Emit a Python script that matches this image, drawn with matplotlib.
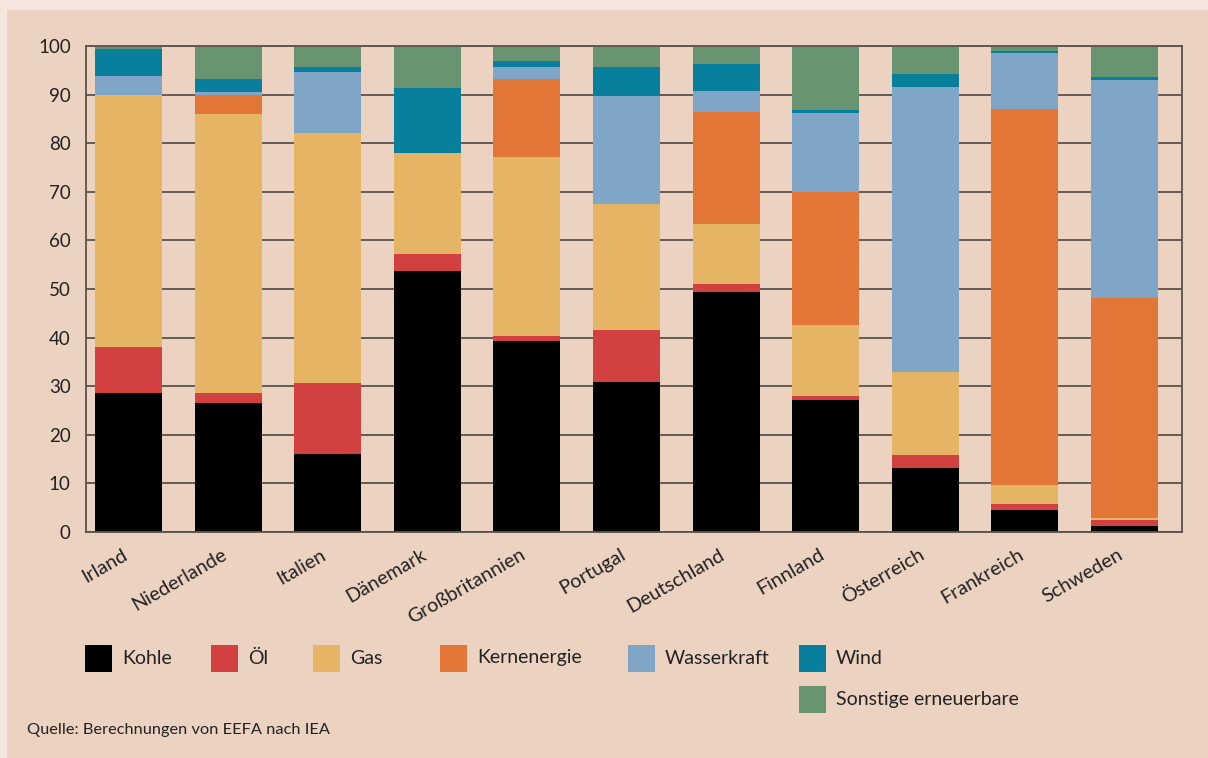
import matplotlib
matplotlib.use("Agg")
import matplotlib.pyplot as plt
import matplotlib.transforms as mtransforms
import numpy as np
from matplotlib.patches import Rectangle

plt.rcParams['font.family'] = ['Lato', 'DejaVu Sans']

# Data: share of electricity generation (percent), stacked bottom to top
countries = ['Irland', 'Niederlande', 'Italien', 'Dänemark', 'Großbritannien',
             'Portugal', 'Deutschland', 'Finnland', 'Österreich', 'Frankreich',
             'Schweden']
kohle    = [28.5, 26.6, 16.1, 53.8, 39.2, 30.9, 49.3, 27.2, 13.2, 4.5, 1.2]
oel      = [9.6, 2.1, 14.6, 3.5, 1.2, 10.7, 1.8, 0.8, 2.7, 1.3, 1.3]
gas      = [51.8, 57.3, 51.4, 20.6, 36.7, 25.8, 12.2, 14.5, 17.1, 3.9, 0.4]
kern     = [0.0, 4.0, 0.0, 0.0, 16.1, 0.0, 23.1, 27.4, 0.0, 77.3, 45.3]
wasser   = [3.9, 0.5, 12.5, 0.0, 2.5, 22.3, 4.3, 16.3, 58.5, 11.6, 44.8]
wind     = [5.6, 2.7, 1.1, 13.4, 1.2, 6.0, 5.6, 0.6, 2.7, 0.4, 0.6]
sonstige = [0.6, 6.8, 4.3, 8.7, 3.1, 4.3, 3.7, 13.2, 5.8, 1.0, 6.4]

series_names = ['Kohle', 'Öl', 'Gas', 'Kernenergie', 'Wasserkraft', 'Wind',
                'Sonstige erneuerbare']
series_values = [kohle, oel, gas, kern, wasser, wind, sonstige]
series_colors = ['#000000', '#D34040', '#E6B465', '#E17636', '#80A6C7',
                 '#087F9C', '#689472']

source_text = 'Quelle: Berechnungen von EEFA nach IEA'

BG = '#ECD2C1'
GRID = '#5B514D'
TEXT = '#222222'

W, H = 1208, 758
fig = plt.figure(figsize=(W / 100, H / 100), dpi=100)
fig.patch.set_facecolor('#F4E6DC')
# main panel (light strip left and top)
fig.patches.append(Rectangle((7 / W, 0), 1, 1 - 10 / H, transform=fig.transFigure,
                             facecolor=BG, edgecolor='none', zorder=-5))

ax = fig.add_axes([86 / W, (H - 532) / H, (1182 - 86) / W, (532 - 46) / H])
ax.set_facecolor(BG)

x = np.arange(len(countries))
bottom = np.zeros(len(countries))
for name, vals, col in zip(series_names, series_values, series_colors):
    vals = np.array(vals)
    ax.bar(x, vals, width=0.673, bottom=bottom, color=col, linewidth=0,
           label=name, zorder=2)
    bottom += vals

ax.set_xlim(-0.427, 10.577)
ax.set_ylim(0, 100)
ax.set_yticks(np.arange(0, 101, 10))
ax.yaxis.grid(True, color=GRID, linewidth=1.3, zorder=1)
ax.set_axisbelow(True)
for sp in ax.spines.values():
    sp.set_color(GRID)
    sp.set_linewidth(1.3)

ax.tick_params(axis='y', length=0, pad=11, labelsize=13.5, labelcolor=TEXT)
ax.set_xticks(x)
ax.set_xticklabels(countries, rotation=30, ha='right', rotation_mode='anchor')
ax.tick_params(axis='x', length=0, pad=10, labelsize=14.2, labelcolor=TEXT)
shift = mtransforms.ScaledTranslation(-7 / 100, 0, fig.dpi_scale_trans)
for lbl in ax.get_xticklabels():
    lbl.set_transform(lbl.get_transform() + shift)

# legend drawn by hand to match the original layout
legend_pos = [(85, 658), (211, 658), (313, 658), (440, 658), (628, 658),
              (799, 658), (799, 699)]
for (px, py), name, col in zip(legend_pos, series_names, series_colors):
    fig.patches.append(Rectangle((px / W, (H - py - 13.5) / H), 27 / W, 27 / H,
                                 transform=fig.transFigure, facecolor=col,
                                 edgecolor='none', zorder=3))
    fig.text((px + 37) / W, (H - py) / H, name, fontsize=14, color=TEXT,
             va='center', ha='left')

fig.text(27 / W, (H - 730) / H, source_text, fontsize=11.8, color=TEXT,
         va='center', ha='left')

fig.savefig('out.png', dpi=100, facecolor=fig.get_facecolor())
